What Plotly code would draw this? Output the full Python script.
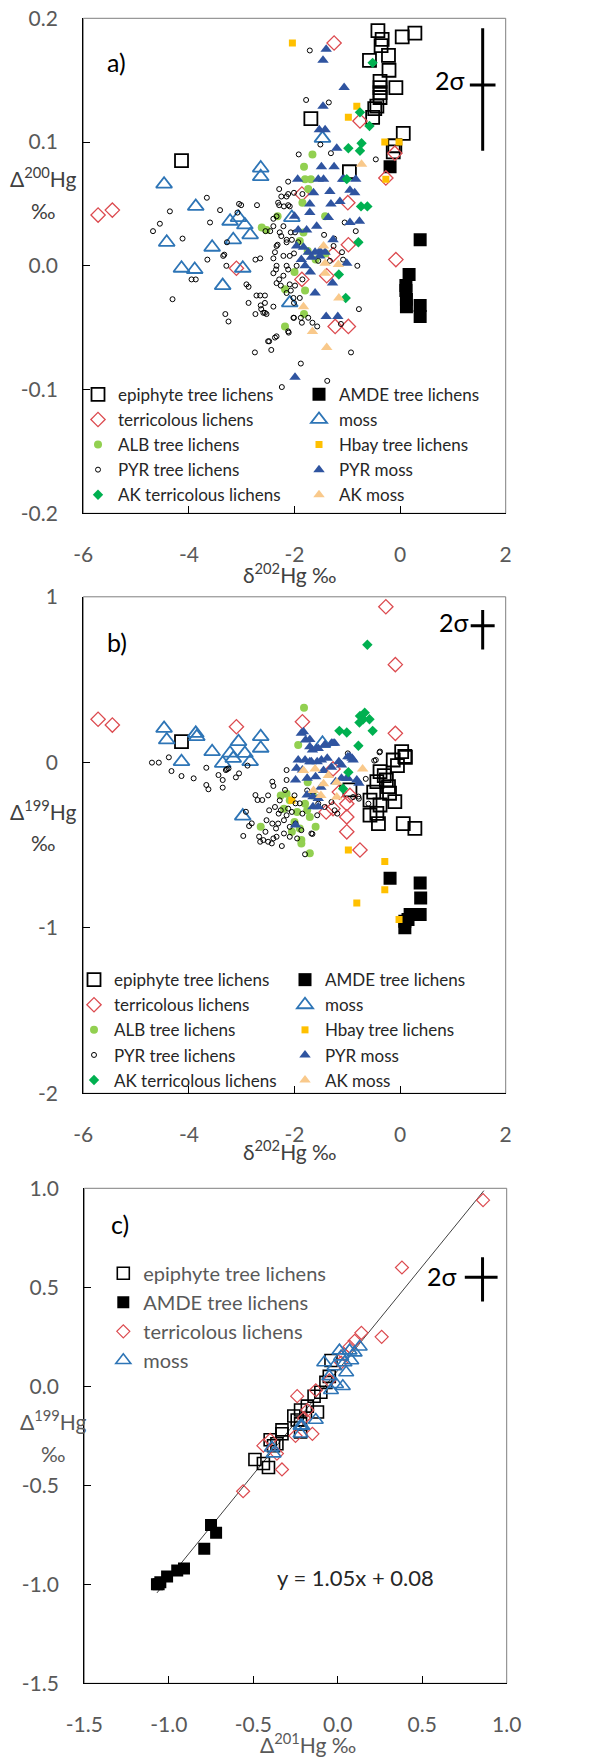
import plotly.graph_objects as go
import numpy as np

W, H = 600, 1758
FONT = "Lato"


def px(x):
    return x / W


def py(y):
    return 1 - y / H


# ---------------- tick labels ----------------
a_xticks = [-6, -4, -2, 0, 2]
a_xticktext = ["-6", "-4", "-2", "0", "2"]
a_yticks = [-0.2, -0.1, 0.0, 0.1, 0.2]
a_yticktext = ["-0.2", "-0.1", "0.0", "0.1", "0.2"]
b_yticks = [-2, -1, 0, 1]
b_yticktext = ["-2", "-1", "0", "1"]
c_ticks = [-1.5, -1.0, -0.5, 0.0, 0.5, 1.0]
c_ticktext = ["-1.5", "-1.0", "-0.5", "0.0", "0.5", "1.0"]

# ---------------- panel a : d202 vs D200 ----------------
epi_a_x = [-0.42, 0.28, 0.04, -0.34, -0.36, -0.22, -0.58, -0.21, -0.38, -0.08, -0.38, -0.38, -0.38, -0.44, -0.48, -0.52, -1.69, 0.06, -0.10, -0.13, -4.14, -0.96]
epi_a_y = [0.190, 0.188, 0.185, 0.183, 0.178, 0.170, 0.166, 0.158, 0.149, 0.144, 0.144, 0.140, 0.136, 0.129, 0.127, 0.120, 0.119, 0.107, 0.097, 0.092, 0.085, 0.076]
amde_a_x = [-0.19, 0.38, 0.17, 0.11, 0.11, 0.12, 0.12, 0.38, 0.38]
amde_a_y = [0.080, 0.021, -0.007, -0.016, -0.020, -0.027, -0.033, -0.032, -0.041]
terr_a_x = [-1.25, -0.76, -0.10, -0.27, -0.99, -5.72, -5.45, -0.08, -3.10, -1.86, -1.39, -0.98, -1.27, -1.23, -0.98, -1.86]
terr_a_y = [0.180, 0.117, 0.091, 0.071, 0.051, 0.041, 0.045, 0.005, -0.002, -0.011, -0.008, 0.017, 0.009, -0.049, -0.049, 0.058]
moss_a_x = [-4.47, -3.87, -4.42, -4.14, -3.89, -3.56, -3.36, -3.22, -3.06, -2.94, -3.16, -2.84, -2.98, -2.64, -2.64, -1.47, -2.05, -2.09]
moss_a_y = [0.066, 0.048, 0.019, -0.002, -0.003, 0.015, -0.016, 0.036, 0.039, 0.033, 0.021, 0.025, -0.002, 0.079, 0.072, 0.103, 0.039, -0.030]
alb_a_x = [-1.66, -1.82, -1.80, -1.69, -1.74, -1.85, -2.62, -2.53, -2.32, -1.83, -1.42, -1.41, -1.80, -1.82, -2.18, -2.18, -1.90, -1.75, -1.60, -2.00]
alb_a_y = [0.090, 0.080, 0.070, 0.070, 0.062, 0.051, 0.031, 0.029, 0.040, 0.027, 0.040, 0.010, -0.020, -0.039, -0.049, -0.019, 0.020, 0.012, 0.005, -0.005]
hbay_a_x = [-2.04, -0.82, -0.98, -0.29, -0.02, -0.27]
hbay_a_y = [0.180, 0.129, 0.120, 0.100, 0.100, 0.070]
pyr_a_x = [-3.66, -4.36, -4.55, -4.68, -4.12, -3.60, -3.41, -3.01, -2.71, -3.08, -3.65, -3.33, -3.28, -3.29, -3.87, -4.31, -2.91, -2.87, -2.74, -2.65,
           -2.55, -2.46, -2.40, -2.29, -2.12, -2.40, -2.35, -2.29, -2.32, -2.25, -2.15, -2.07, -2.01, -1.96, -2.12, -2.26, -2.07, -2.01, -1.85, -1.90,
           -1.86, -1.57, -1.74, -2.01, -2.65, -2.56, -2.63, -2.56, -2.74, -2.40, -2.87, -2.48, -2.34, -2.44, -2.75, -3.31, -3.25, -2.11, -1.88, -1.38,
           -0.93, -0.78, -1.44, -1.25, -1.55, -0.81, -1.05, -2.25, -2.12, -2.01, -1.85, -2.24, -1.12, -1.71, -1.78, -1.35, -1.51, -1.92, -1.31, -0.46,
           -0.84, -3.05, -2.29, -2.12, -2.15, -2.31, -2.20, -2.09, -2.34, -2.40, -2.21, -2.28, -1.99, -2.34, -2.15, -2.05, -2.37, -2.21, -2.09, -2.34,
           -2.15, -2.40, -2.21, -2.34, -2.09, -2.15, -2.02, -1.99, -1.93, -1.26, -1.10, -1.33, -1.08, -2.50, -2.37, -1.66, -2.12, -1.88, -2.02, -2.59,
           -2.53, -2.64, -2.72, -2.56, -3.95, -3.35]
pyr_a_y = [0.055, 0.044, 0.034, 0.028, 0.022, 0.035, 0.045, 0.049, 0.049, 0.043, 0.005, 0.009, 0.019, 0.000, -0.011, -0.027, -0.015, -0.017, 0.005, 0.006,
           0.028, 0.028, 0.038, 0.049, 0.049, 0.006, -0.003, -0.011, 0.017, 0.024, 0.019, 0.027, 0.010, 0.000, -0.003, -0.016, -0.020, -0.030, -0.011, -0.026,
           -0.046, -0.049, -0.042, -0.042, -0.024, -0.030, -0.035, -0.038, -0.039, -0.033, -0.030, -0.061, -0.057, -0.068, -0.070, -0.039, -0.045, -0.054, -0.079, -0.093,
           -0.070, -0.035, 0.025, 0.022, 0.004, 0.000, 0.035, 0.056, 0.058, 0.059, 0.058, -0.098, -0.047, 0.174, 0.134, 0.132, 0.098, 0.090, 0.091, 0.086,
           0.028, 0.050, 0.062, 0.068, 0.056, 0.051, 0.048, 0.048, 0.040, 0.032, 0.032, 0.027, 0.027, 0.016, 0.021, 0.021, 0.011, 0.008, 0.008, 0.000,
           0.000, -0.006, -0.008, -0.014, -0.015, -0.022, -0.026, -0.016, 0.019, 0.016, 0.011, 0.004, 0.005, -0.061, -0.058, -0.046, -0.053, -0.042, -0.042, -0.038,
           -0.039, -0.032, -0.024, -0.024, -0.011, 0.008]
pmoss_a_x = [-1.40, -1.46, -1.06, -1.46, -1.53, -1.42, -1.20, -1.49, -1.25, -1.94, -1.55, -1.45, -1.06, -0.84, -1.64, -1.33, -0.95, -0.86, -1.71, -1.31,
             -1.14, -1.71, -1.36, -0.95, -0.77, -2.00, -1.93, -1.77, -1.58, -1.27, -1.96, -1.83, -1.74, -1.61, -1.52, -1.42, -1.87, -1.68, -1.52, -1.01,
             -1.61, -1.28, -1.40, -1.18, -1.99, -1.09, -1.80, -1.70]
pmoss_a_y = [0.175, 0.166, 0.144, 0.129, 0.110, 0.110, 0.095, 0.080, 0.080, 0.070, 0.070, 0.070, 0.070, 0.070, 0.059, 0.060, 0.061, 0.059, 0.050, 0.050,
             0.052, 0.043, 0.039, 0.035, 0.036, 0.040, 0.029, 0.029, 0.032, 0.021, 0.016, 0.015, 0.011, 0.011, 0.012, 0.011, 0.005, 0.007, 0.008, 0.002,
             -0.022, -0.014, -0.041, -0.041, -0.090, 0.070, 0.000, -0.005]
akterr_a_x = [-0.52, -0.76, -0.58, -0.73, -0.76, -0.98, -1.01, -0.74, -0.62, -0.79, -1.16, -1.03]
akterr_a_y = [0.164, 0.124, 0.113, 0.099, 0.093, 0.095, 0.070, 0.048, 0.048, 0.019, -0.007, -0.026]
akmoss_a_x = [-0.73, -1.45, -1.42, -1.17, -1.42, -1.16, -1.83, -1.66, -1.39]
akmoss_a_y = [0.082, 0.016, 0.002, 0.001, -0.006, -0.026, -0.033, -0.053, -0.066]

# ---------------- panel b : d202 vs D199 ----------------
epi_b_x = [-4.14, 0.03, 0.09, -0.13, -0.38, -0.44, -0.26, -0.22, -0.95, -0.10, -0.57, -0.38, -0.44, -0.57, -0.41, 0.06, 0.28, -0.20, -0.30, -0.50, 0.10, -0.05]
epi_b_y = [0.125, 0.065, 0.035, 0.014, -0.056, -0.117, -0.107, -0.147, -0.167, -0.238, -0.228, -0.258, -0.309, -0.319, -0.370, -0.370, -0.399, -0.187, -0.080, -0.180, 0.030, -0.020]
amde_b_x = [-0.19, 0.38, 0.39, 0.38, 0.19, 0.09, 0.09, 0.28, 0.15]
amde_b_y = [-0.70, -0.73, -0.82, -0.92, -0.92, -0.96, -1.00, -0.92, -0.95]
terr_b_x = [-0.27, -0.09, -5.72, -5.45, -3.10, -1.85, -0.09, -1.27, -1.01, -1.01, -1.01, -1.27, -0.76, -1.40, -1.15, -0.95]
terr_b_y = [0.94, 0.59, 0.26, 0.225, 0.215, 0.245, 0.175, -0.04, -0.25, -0.33, -0.42, -0.28, -0.53, -0.30, -0.18, -0.20]
moss_b_x = [-4.47, -4.42, -3.87, -3.85, -4.14, -3.56, -3.36, -3.22, -3.06, -3.16, -2.94, -2.84, -2.64, -2.64, -2.98, -1.47]
moss_b_y = [0.205, 0.135, 0.175, 0.155, 0.004, 0.064, -0.006, 0.055, 0.125, 0.024, 0.054, 0.004, 0.155, 0.085, -0.325, 0.115]
alb_b_x = [-1.82, -1.93, -2.26, -2.15, -2.09, -1.76, -1.71, -1.60, -1.87, -2.64, -1.87, -1.71, -1.95, -2.00, -1.80, -1.65, -2.20, -1.90, -2.05, -1.75]
alb_b_y = [0.33, 0.105, -0.20, -0.19, -0.23, -0.29, -0.33, -0.39, -0.47, -0.39, -0.49, -0.55, -0.30, -0.36, -0.25, -0.20, -0.28, -0.40, -0.42, -0.12]
hbay_b_x = [-0.98, -0.29, -0.29, -0.82, -0.02, -2.05]
hbay_b_y = [-0.53, -0.60, -0.77, -0.85, -0.95, -0.23]
pyr_b_x = [-4.70, -4.57, -4.38, -4.33, -4.14, -3.91, -3.67, -3.67, -3.63, -3.36, -3.44, -3.36, -3.30, -3.25, -3.28, -3.11, -3.05, -2.89, -2.74, -2.70,
           -2.61, -2.42, -2.40, -2.92, -2.81, -2.86, -2.97, -2.67, -2.15, -2.15, -2.18, -1.98, -1.90, -2.48, -2.37, -2.26, -2.53, -2.42, -2.31, -2.20,
           -2.09, -1.98, -2.20, -2.09, -1.87, -1.68, -1.76, -1.65, -1.55, -1.43, -1.24, -1.19, -0.89, -0.78, -0.99, -0.49, -0.39, -1.30, -1.57, -0.38,
           -0.46, -0.79, -2.65, -2.59, -2.50, -2.40, -2.34, -2.24, -2.43, -1.80, -1.66, -2.30, -2.15, -2.05, -2.35, -2.55, -2.12, -2.00, -1.85, -1.95,
           -2.28, -2.50, -1.10, -0.60, -0.65]
pyr_b_y = [-0.002, -0.002, 0.030, -0.053, -0.083, -0.097, -0.033, -0.137, -0.163, -0.153, -0.077, -0.107, -0.047, -0.037, -0.042, -0.091, -0.067, -0.020, -0.198, -0.228,
           -0.228, -0.117, -0.143, -0.299, -0.369, -0.385, -0.445, -0.449, -0.047, -0.107, -0.167, -0.248, -0.248, -0.290, -0.270, -0.290, -0.350, -0.370, -0.370, -0.350,
           -0.390, -0.370, -0.430, -0.450, -0.410, -0.430, -0.170, -0.180, -0.250, -0.270, -0.290, -0.310, -0.210, -0.220, 0.054, 0.010, 0.060, -0.240, -0.320, 0.065,
           0.014, -0.207, -0.480, -0.470, -0.480, -0.460, -0.450, -0.506, -0.490, -0.556, -0.433, -0.310, -0.320, -0.300, -0.400, -0.420, -0.280, -0.200, -0.310, -0.460,
           -0.230, -0.200, -0.150, -0.250, -0.100]
pmoss_b_x = [-1.87, -1.79, -1.71, -1.66, -1.55, -1.43, -1.30, -1.24, -1.96, -1.85, -1.71, -1.57, -1.49, -1.38, -1.16, -1.11, -0.99, -0.91, -0.78, -0.99,
             -1.76, -1.60, -1.76, -1.65, -1.55, -1.65, -1.55, -1.98, -1.22, -1.11, -1.98, -1.83, -1.71, -1.58, -1.42, -1.27, -1.93, -1.80, -1.68, -0.95,
             -0.89, -1.01, -0.82, -1.45, -1.30, -1.50]
pmoss_b_y = [0.175, 0.135, 0.138, 0.074, 0.084, 0.104, 0.115, 0.115, -0.036, -0.046, 0.004, 0.004, 0.014, 0.024, 0.004, -0.016, 0.034, 0.024, -0.127, -0.097,
             -0.097, -0.087, -0.198, -0.208, -0.218, -0.268, -0.268, -0.379, -0.117, -0.097, -0.107, 0.185, 0.094, 0.084, 0.104, 0.115, 0.014, 0.014, 0.004, 0.034,
             0.014, -0.097, -0.107, -0.050, -0.030, -0.150]
akterr_b_x = [-0.62, -0.76, -0.70, -0.77, -0.58, -1.15, -1.01, -0.52, -0.79, -0.98, -1.08, -0.67]
akterr_b_y = [0.71, 0.28, 0.26, 0.24, 0.26, 0.19, 0.18, 0.19, 0.10, -0.06, -0.16, 0.30]
akmoss_b_x = [-1.83, -1.61, -0.71, -1.64, -1.45, -1.20, -1.20, -1.36, -1.50]
akmoss_b_y = [-0.05, -0.04, -0.04, -0.17, -0.13, -0.12, -0.21, -0.08, -0.20]

# ---------------- panel c : D201 vs D199 ----------------
epi_c_x = [-0.04, -0.07, -0.05, -0.14, -0.22, -0.24, -0.12, -0.33, -0.33, -0.40, -0.38, -0.49, -0.44, -0.41, -0.22, -0.22, -0.18, -0.10, -0.36, -0.26]
epi_c_y = [0.13, 0.02, 0.05, -0.05, -0.12, -0.17, -0.13, -0.22, -0.24, -0.27, -0.30, -0.37, -0.39, -0.41, -0.23, -0.19, -0.10, -0.03, -0.29, -0.15]
amde_c_x = [-1.07, -1.05, -1.06, -1.01, -0.95, -0.91, -0.79, -0.75, -0.72]
amde_c_y = [-1.00, -0.99, -1.00, -0.96, -0.93, -0.92, -0.82, -0.70, -0.74]
terr_c_x = [0.86, 0.38, 0.26, 0.14, 0.10, 0.07, -0.24, -0.13, -0.56, -0.33, -0.44, -0.40, -0.25, -0.15, -0.36, -0.05, 0.02, -0.18, -0.20, 0.04]
terr_c_y = [0.94, 0.60, 0.25, 0.27, 0.23, 0.20, -0.05, -0.02, -0.53, -0.42, -0.30, -0.27, -0.25, -0.24, -0.34, 0.03, 0.12, -0.12, -0.16, 0.16]
moss_c_x = [0.13, 0.07, 0.08, 0.01, 0.02, -0.08, -0.02, 0.05, 0.03, -0.04, -0.01, -0.13, -0.22, -0.39, -0.38, -0.22, -0.21, 0.04, 0.10, -0.05]
moss_c_y = [0.20, 0.18, 0.13, 0.18, 0.15, 0.12, 0.10, 0.07, 0.00, -0.02, 0.01, -0.17, -0.20, -0.31, -0.34, -0.24, -0.20, 0.12, 0.17, 0.05]
fit_slope = 1.05
fit_intercept = 0.08
fit_x = [-1.07, 0.865]

# ---------------- 2-sigma crosses ----------------
sig_a_x, sig_a_y = [1.564], [0.146]
sig_a_ex, sig_a_eyp, sig_a_eym = [0.243], [0.046], [0.053]
sig_b_x, sig_b_y = [1.564], [0.825]
sig_b_ex, sig_b_eyp, sig_b_eym = [0.227], [0.095], [0.143]
sig_c_x, sig_c_y = [0.857], [0.551]
sig_c_exp, sig_c_exm, sig_c_eyp, sig_c_eym = [0.089], [0.105], [0.101], [0.123]

STYLE = {
    "epiphyte tree lichens": dict(symbol="square-open", color="black", size=13, lw=1.8),
    "AMDE tree lichens": dict(symbol="square", color="black", size=13, lw=0),
    "terricolous lichens": dict(symbol="diamond-open", color="#DC4B50", size=11, lw=1.3),
    "moss": dict(symbol="triangle-up-open", color="#2E75B6", size=14, lw=1.8),
    "ALB tree lichens": dict(symbol="circle", color="#92D050", size=8, lw=0),
    "Hbay tree lichens": dict(symbol="square", color="#FFC000", size=7, lw=0),
    "PYR tree lichens": dict(symbol="circle-open", color="black", size=5, lw=1),
    "PYR moss": dict(symbol="triangle-up", color="#2F54A0", size=10, lw=0),
    "AK terricolous lichens": dict(symbol="diamond", color="#00B050", size=8, lw=0),
    "AK moss": dict(symbol="triangle-up", color="#F9C98B", size=10, lw=0),
}

fig = go.Figure()


def add_series(name, x, y, xa, ya, legend, size=None, lw=None):
    s = STYLE[name]
    fig.add_trace(go.Scatter(
        x=x, y=y, mode="markers", name=name, xaxis=xa, yaxis=ya, legend=legend,
        marker=dict(symbol=s["symbol"], color=s["color"], size=size or s["size"],
                    line=dict(color=s["color"], width=s["lw"] if lw is None else lw)),
        hoverinfo="skip"))


left_col = {"epiphyte tree lichens", "terricolous lichens", "ALB tree lichens", "PYR tree lichens", "AK terricolous lichens"}

panel_a = [("epiphyte tree lichens", epi_a_x, epi_a_y), ("AMDE tree lichens", amde_a_x, amde_a_y),
           ("terricolous lichens", terr_a_x, terr_a_y), ("moss", moss_a_x, moss_a_y),
           ("ALB tree lichens", alb_a_x, alb_a_y), ("Hbay tree lichens", hbay_a_x, hbay_a_y),
           ("PYR tree lichens", pyr_a_x, pyr_a_y), ("PYR moss", pmoss_a_x, pmoss_a_y),
           ("AK terricolous lichens", akterr_a_x, akterr_a_y), ("AK moss", akmoss_a_x, akmoss_a_y)]
panel_b = [("epiphyte tree lichens", epi_b_x, epi_b_y), ("AMDE tree lichens", amde_b_x, amde_b_y),
           ("terricolous lichens", terr_b_x, terr_b_y), ("moss", moss_b_x, moss_b_y),
           ("ALB tree lichens", alb_b_x, alb_b_y), ("Hbay tree lichens", hbay_b_x, hbay_b_y),
           ("PYR tree lichens", pyr_b_x, pyr_b_y), ("PYR moss", pmoss_b_x, pmoss_b_y),
           ("AK terricolous lichens", akterr_b_x, akterr_b_y), ("AK moss", akmoss_b_x, akmoss_b_y)]

for name, x, y in panel_a:
    add_series(name, x, y, "x", "y", "legend" if name in left_col else "legend2")
for name, x, y in panel_b:
    add_series(name, x, y, "x2", "y2", "legend3" if name in left_col else "legend4")

# regression line (panel c), drawn below points
fx = np.array(fit_x)
fig.add_trace(go.Scatter(x=fx, y=fit_slope * fx + fit_intercept, mode="lines", xaxis="x3", yaxis="y3",
                         line=dict(color="#404040", width=1), showlegend=False, hoverinfo="skip"))
panel_c = [("epiphyte tree lichens", epi_c_x, epi_c_y, 12, 1.6), ("AMDE tree lichens", amde_c_x, amde_c_y, 12, 0),
           ("terricolous lichens", terr_c_x, terr_c_y, 10, 1.2), ("moss", moss_c_x, moss_c_y, 13, 1.6)]
for name, x, y, sz, lw in panel_c:
    add_series(name, x, y, "x3", "y3", "legend5", size=sz, lw=lw)

# 2 sigma crosses
for xa, ya, xs, ys, exp, exm, eyp, eym in [
    ("x", "y", sig_a_x, sig_a_y, sig_a_ex, sig_a_ex, sig_a_eyp, sig_a_eym),
    ("x2", "y2", sig_b_x, sig_b_y, sig_b_ex, sig_b_ex, sig_b_eyp, sig_b_eym),
    ("x3", "y3", sig_c_x, sig_c_y, sig_c_exp, sig_c_exm, sig_c_eyp, sig_c_eym),
]:
    fig.add_trace(go.Scatter(
        x=xs, y=ys, mode="markers", xaxis=xa, yaxis=ya, showlegend=False, hoverinfo="skip",
        marker=dict(size=1, color="rgba(0,0,0,0)"),
        error_x=dict(type="data", symmetric=False, array=exp, arrayminus=exm, thickness=3, width=0, color="black"),
        error_y=dict(type="data", symmetric=False, array=eyp, arrayminus=eym, thickness=3, width=0, color="black")))

TICKFONT = dict(family=FONT, size=21, color="#595959")


def axis(domain, rng, tickvals, ticktext, anchor, standoff):
    return dict(domain=domain, range=rng, tickvals=tickvals, ticktext=ticktext, anchor=anchor,
                showline=True, linecolor="black", linewidth=1.3, mirror=False,
                ticks="inside", ticklen=7, tickwidth=1.3, tickcolor="black",
                showgrid=False, zeroline=False, tickfont=TICKFONT, ticklabelstandoff=standoff,
                fixedrange=True)


xa_dom = [px(83.3), px(505.7)]
xc_dom = [px(84.3), px(506.7)]
ya_dom = [py(513.3), py(18.3)]
yb_dom = [py(1093.3), py(596.8)]
yc_dom = [py(1683.3), py(1188.3)]

leg_common = dict(bgcolor="rgba(0,0,0,0)", borderwidth=0, xanchor="left", yanchor="top",
                  orientation="v", tracegroupgap=0, itemwidth=30, itemclick=False, itemdoubleclick=False)
LEGFONT_AB = dict(family=FONT, size=17, color="#262626")
LEGFONT_C = dict(family=FONT, size=20, color="#595959")

fig.update_layout(
    width=W, height=H, autosize=False,
    margin=dict(l=0, r=0, t=0, b=0, autoexpand=False),
    paper_bgcolor="white", plot_bgcolor="white",
    font=dict(family=FONT),
    xaxis=axis(xa_dom, [-6, 2], a_xticks, a_xticktext, "y", 22),
    yaxis=axis(ya_dom, [-0.2, 0.2], a_yticks, a_yticktext, "x", 20),
    xaxis2=axis(xa_dom, [-6, 2], a_xticks, a_xticktext, "y2", 22),
    yaxis2=axis(yb_dom, [-2, 1], b_yticks, b_yticktext, "x2", 20),
    xaxis3=axis(xc_dom, [-1.5, 1.0], c_ticks, c_ticktext, "y3", 22),
    yaxis3=axis(yc_dom, [-1.5, 1.0], c_ticks, c_ticktext, "x3", 20),
    legend=dict(x=px(78), y=py(376.8), font=LEGFONT_AB, **leg_common),
    legend2=dict(x=px(299), y=py(376.8), font=LEGFONT_AB, **leg_common),
    legend3=dict(x=px(74), y=py(962.1), font=LEGFONT_AB, **leg_common),
    legend4=dict(x=px(285), y=py(962.1), font=LEGFONT_AB, **leg_common),
    legend5=dict(x=px(103.3), y=py(1253.8), font=LEGFONT_C, **leg_common),
)

# plot-area borders (top/right lighter)
for xr, yr in [("x domain", "y domain"), ("x2 domain", "y2 domain"), ("x3 domain", "y3 domain")]:
    fig.add_shape(type="rect", xref=xr, yref=yr, x0=0, x1=1, y0=0, y1=1,
                  line=dict(color="#7f7f7f", width=1), layer="below")

TITLE_AB = dict(family=FONT, size=21, color="#404040")
TITLE_C = dict(family=FONT, size=21, color="#595959")
texts = [
    ("a)", 116, 62, dict(family=FONT, size=25, color="black")),
    ("b)", 117, 642, dict(family=FONT, size=25, color="black")),
    ("c)", 120, 1224, dict(family=FONT, size=25, color="black")),
    ("2σ", 450, 80, dict(family=FONT, size=25, color="black")),
    ("2σ", 454, 622, dict(family=FONT, size=25, color="black")),
    ("2σ", 442, 1276, dict(family=FONT, size=25, color="black")),
    ("Δ<sup>200</sup>Hg", 43, 177, TITLE_AB),
    ("‰", 43, 210, TITLE_AB),
    ("δ<sup>202</sup>Hg ‰", 290, 573, TITLE_AB),
    ("Δ<sup>199</sup>Hg", 43, 810, TITLE_AB),
    ("‰", 43, 843, TITLE_AB),
    ("δ<sup>202</sup>Hg ‰", 290, 1150, TITLE_AB),
    ("Δ<sup>199</sup>Hg", 53, 1420, TITLE_C),
    ("‰", 53, 1453, TITLE_C),
    ("Δ<sup>201</sup>Hg ‰", 308, 1743, TITLE_C),
    ("y = 1.05x + 0.08", 355, 1577, dict(family=FONT, size=22, color="#262626")),
]
for t, x, y, f in texts:
    fig.add_annotation(text=t, x=px(x), y=py(y), xref="paper", yref="paper", showarrow=False,
                       xanchor="center", yanchor="middle", font=f)

fig.write_html("out.html")
